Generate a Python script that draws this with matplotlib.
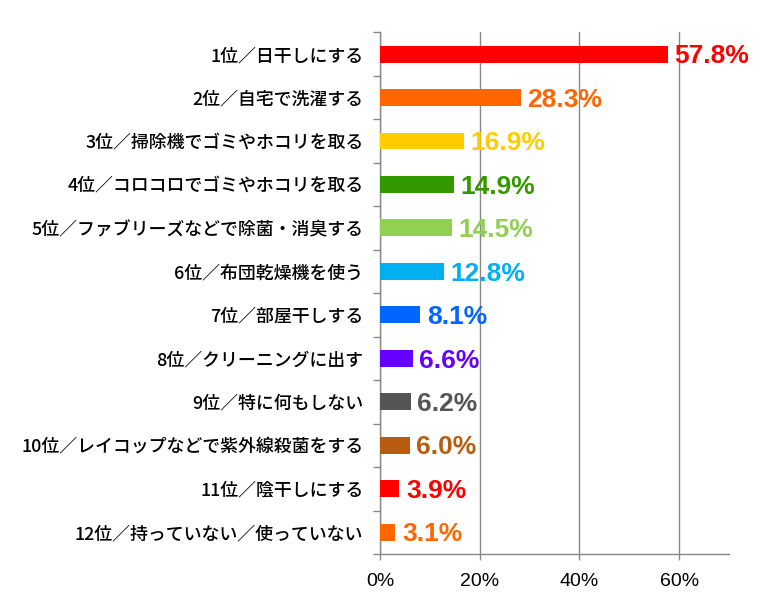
import matplotlib
matplotlib.use("Agg")
import matplotlib.pyplot as plt
from matplotlib.ticker import FixedLocator
from matplotlib import font_manager

categories = [
    "1位／日干しにする",
    "2位／自宅で洗濯する",
    "3位／掃除機でゴミやホコリを取る",
    "4位／コロコロでゴミやホコリを取る",
    "5位／ファブリーズなどで除菌・消臭する",
    "6位／布団乾燥機を使う",
    "7位／部屋干しする",
    "8位／クリーニングに出す",
    "9位／特に何もしない",
    "10位／レイコップなどで紫外線殺菌をする",
    "11位／陰干しにする",
    "12位／持っていない／使っていない",
]
values = [57.8, 28.3, 16.9, 14.9, 14.5, 12.8, 8.1, 6.6, 6.2, 6.0, 3.9, 3.1]
colors = ["#FF0000", "#FF6600", "#FFCC00", "#339900", "#92D050", "#00B0F0",
          "#0066FF", "#6600FF", "#555555", "#B85C10", "#FF0000", "#FF6600"]
xticks = [0, 20, 40, 60]
xticklabels = ["0%", "20%", "40%", "60%"]

names = {f.name for f in font_manager.fontManager.ttflist}
num_font = "Liberation Sans Narrow" if "Liberation Sans Narrow" in names else "Liberation Sans"

plt.rcParams['font.family'] = ['Noto Sans CJK JP', 'DejaVu Sans']

fig = plt.figure(figsize=(7.66, 6.07), dpi=100)
ax = fig.add_axes([380/766, 53/607, (729-380)/766, (575-53)/607 - 0.0005])

n = len(categories)
ypos = list(range(n))
ax.barh(ypos, values, height=0.39, color=colors, zorder=3)
ax.set_ylim(n - 0.5, -0.5)
ax.set_xlim(0, 70)

for y, v, c in zip(ypos, values, colors):
    ax.text(v + 1.3, y + 0.05, f"{v:.1f}%", color=c, fontsize=19, fontweight='bold',
            family=num_font, va='center', ha='left', zorder=4)

ax.set_yticks(ypos)
ax.set_yticklabels(categories, fontsize=12.9, fontweight='medium')
ax.yaxis.set_minor_locator(FixedLocator([i - 0.5 for i in range(n + 1)]))
ax.tick_params(axis='y', which='major', length=0, pad=12)
ax.tick_params(axis='y', which='minor', length=5, color='#888888', width=1)

ax.set_xticks(xticks)
ax.set_xticklabels(xticklabels, fontsize=14, family='Liberation Sans')
ax.tick_params(axis='x', length=4, color='#888888', width=1, pad=10)
ax.xaxis.grid(True, color='#888888', linewidth=1, zorder=0)

for s in ['top', 'right']:
    ax.spines[s].set_visible(False)
for s in ['left', 'bottom']:
    ax.spines[s].set_color('#888888')
    ax.spines[s].set_linewidth(1)

fig.savefig("out.png", dpi=100)
